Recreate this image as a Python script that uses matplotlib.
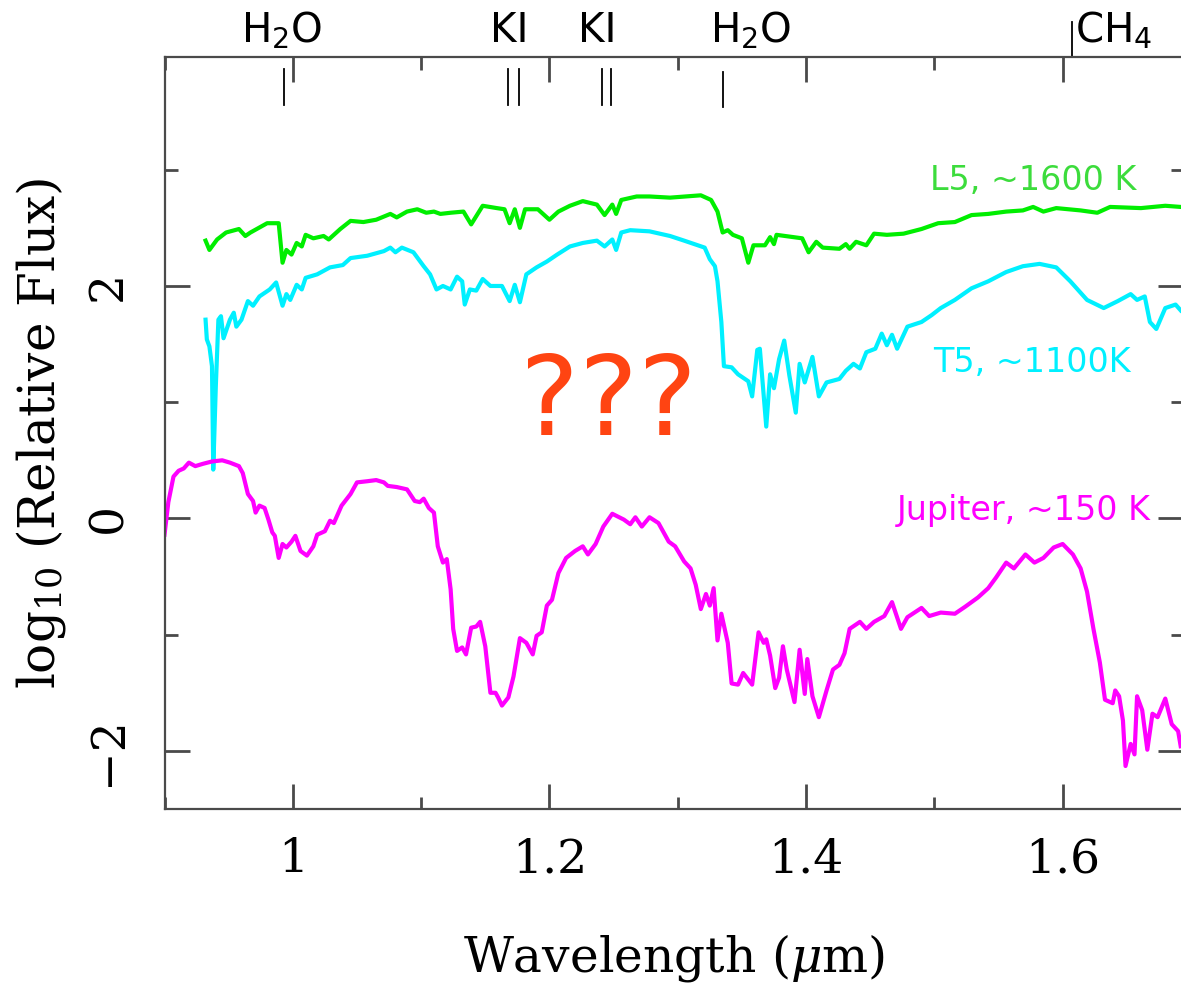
"""Near-IR spectra of an L5 dwarf, a T5 dwarf and Jupiter (log relative flux)."""

import matplotlib
matplotlib.use("Agg")
import matplotlib.pyplot as plt
from matplotlib.ticker import FixedLocator, FixedFormatter, MultipleLocator

# ---- data (wavelength in micron, log10 relative flux) ----
l5_wave = [0.932, 0.935, 0.941, 0.948, 0.958, 0.963, 0.967, 0.980, 0.989, 0.992,
           0.995, 0.999, 1.003, 1.007, 1.010, 1.016, 1.024, 1.028, 1.037, 1.045,
           1.055, 1.065, 1.076, 1.081, 1.089, 1.097, 1.104, 1.110, 1.115, 1.123,
           1.133, 1.139, 1.148, 1.159, 1.165, 1.169, 1.173, 1.177, 1.181, 1.191,
           1.200, 1.207, 1.216, 1.226, 1.237, 1.243, 1.249, 1.252, 1.256, 1.268,
           1.278, 1.294, 1.318, 1.326, 1.331, 1.335, 1.339, 1.343, 1.350, 1.355,
           1.359, 1.368, 1.372, 1.375, 1.377, 1.397, 1.402, 1.408, 1.413, 1.426,
           1.431, 1.434, 1.439, 1.447, 1.453, 1.463, 1.476, 1.490, 1.503, 1.516,
           1.529, 1.542, 1.556, 1.569, 1.577, 1.585, 1.595, 1.614, 1.627, 1.637,
           1.661, 1.680, 1.692]
l5_flux = [2.39, 2.31, 2.40, 2.46, 2.49, 2.43, 2.46, 2.54, 2.54, 2.20,
           2.31, 2.27, 2.37, 2.34, 2.44, 2.41, 2.43, 2.40, 2.49, 2.56,
           2.55, 2.57, 2.62, 2.59, 2.64, 2.66, 2.63, 2.64, 2.62, 2.63,
           2.64, 2.53, 2.69, 2.67, 2.66, 2.54, 2.66, 2.50, 2.66, 2.66,
           2.57, 2.64, 2.69, 2.73, 2.70, 2.61, 2.70, 2.62, 2.74, 2.77,
           2.77, 2.76, 2.78, 2.74, 2.64, 2.46, 2.48, 2.44, 2.41, 2.20,
           2.35, 2.35, 2.42, 2.36, 2.44, 2.41, 2.29, 2.38, 2.33, 2.32,
           2.36, 2.32, 2.38, 2.35, 2.45, 2.44, 2.45, 2.49, 2.54, 2.55,
           2.61, 2.62, 2.64, 2.65, 2.68, 2.64, 2.67, 2.65, 2.63, 2.68,
           2.67, 2.69, 2.68]

t5_wave = [0.932, 0.933, 0.935, 0.937, 0.938, 0.940, 0.942, 0.944, 0.946, 0.951,
           0.954, 0.956, 0.960, 0.965, 0.969, 0.974, 0.982, 0.987, 0.992, 0.995,
           0.998, 1.003, 1.007, 1.010, 1.019, 1.029, 1.039, 1.045, 1.058, 1.071,
           1.076, 1.080, 1.085, 1.094, 1.102, 1.107, 1.112, 1.117, 1.123, 1.128,
           1.132, 1.134, 1.138, 1.143, 1.148, 1.154, 1.163, 1.169, 1.173, 1.177,
           1.182, 1.190, 1.198, 1.206, 1.216, 1.226, 1.237, 1.243, 1.249, 1.252,
           1.256, 1.263, 1.278, 1.294, 1.305, 1.321, 1.325, 1.329, 1.331, 1.334,
           1.336, 1.342, 1.347, 1.355, 1.358, 1.362, 1.364, 1.369, 1.372, 1.375,
           1.379, 1.383, 1.387, 1.392, 1.395, 1.399, 1.405, 1.410, 1.416, 1.426,
           1.431, 1.437, 1.442, 1.447, 1.454, 1.459, 1.463, 1.467, 1.471, 1.479,
           1.490, 1.498, 1.505, 1.516, 1.529, 1.542, 1.556, 1.569, 1.582, 1.595,
           1.606, 1.619, 1.632, 1.643, 1.653, 1.658, 1.664, 1.668, 1.673, 1.680,
           1.688, 1.692]
t5_flux = [1.71, 1.54, 1.48, 1.31, 0.42, 1.14, 1.71, 1.74, 1.55, 1.71,
           1.77, 1.65, 1.71, 1.87, 1.83, 1.91, 1.97, 2.03, 1.83, 1.93,
           1.88, 2.01, 1.97, 2.07, 2.10, 2.16, 2.18, 2.24, 2.26, 2.30,
           2.33, 2.29, 2.33, 2.29, 2.17, 2.10, 1.97, 2.00, 1.97, 2.08,
           2.04, 1.84, 1.97, 1.96, 2.06, 2.00, 2.00, 1.87, 2.01, 1.86,
           2.10, 2.16, 2.21, 2.27, 2.34, 2.37, 2.39, 2.34, 2.40, 2.31,
           2.46, 2.48, 2.47, 2.43, 2.39, 2.33, 2.23, 2.17, 2.04, 1.69,
           1.31, 1.30, 1.24, 1.18, 1.05, 1.45, 1.46, 0.79, 1.24, 1.12,
           1.37, 1.53, 1.23, 0.91, 1.33, 1.17, 1.39, 1.05, 1.17, 1.20,
           1.27, 1.33, 1.29, 1.43, 1.46, 1.59, 1.49, 1.58, 1.46, 1.65,
           1.69, 1.75, 1.81, 1.88, 1.98, 2.04, 2.12, 2.17, 2.19, 2.16,
           2.04, 1.88, 1.81, 1.87, 1.93, 1.88, 1.91, 1.69, 1.63, 1.81,
           1.84, 1.79]

jup_wave = [0.900, 0.903, 0.907, 0.911, 0.915, 0.919, 0.924, 0.930, 0.937, 0.945,
            0.951, 0.958, 0.961, 0.965, 0.969, 0.971, 0.974, 0.978, 0.981, 0.984,
            0.986, 0.989, 0.992, 0.995, 0.999, 1.002, 1.006, 1.011, 1.016, 1.019,
            1.025, 1.029, 1.032, 1.038, 1.045, 1.050, 1.058, 1.065, 1.071, 1.074,
            1.081, 1.089, 1.095, 1.099, 1.102, 1.106, 1.110, 1.113, 1.117, 1.120,
            1.123, 1.125, 1.128, 1.132, 1.135, 1.139, 1.143, 1.146, 1.150, 1.154,
            1.158, 1.160, 1.163, 1.168, 1.172, 1.175, 1.177, 1.182, 1.187, 1.190,
            1.194, 1.198, 1.202, 1.207, 1.213, 1.220, 1.226, 1.230, 1.236, 1.242,
            1.249, 1.258, 1.263, 1.267, 1.272, 1.278, 1.285, 1.293, 1.298, 1.305,
            1.310, 1.314, 1.318, 1.322, 1.325, 1.328, 1.331, 1.334, 1.339, 1.342,
            1.347, 1.351, 1.358, 1.363, 1.367, 1.369, 1.372, 1.376, 1.379, 1.382,
            1.385, 1.391, 1.395, 1.399, 1.401, 1.405, 1.410, 1.416, 1.421, 1.426,
            1.430, 1.434, 1.442, 1.447, 1.453, 1.461, 1.467, 1.474, 1.479, 1.490,
            1.496, 1.505, 1.516, 1.524, 1.534, 1.542, 1.548, 1.556, 1.562, 1.571,
            1.578, 1.585, 1.593, 1.600, 1.608, 1.614, 1.619, 1.624, 1.629, 1.633,
            1.639, 1.641, 1.644, 1.647, 1.649, 1.653, 1.656, 1.658, 1.662, 1.666,
            1.670, 1.674, 1.680, 1.685, 1.690, 1.692]
jup_flux = [-0.14, 0.14, 0.36, 0.41, 0.43, 0.48, 0.45, 0.47, 0.49, 0.50,
            0.48, 0.45, 0.39, 0.21, 0.15, 0.05, 0.11, 0.09, -0.01, -0.12,
            -0.15, -0.34, -0.22, -0.25, -0.20, -0.15, -0.28, -0.32, -0.24, -0.14,
            -0.11, -0.02, -0.04, 0.11, 0.21, 0.31, 0.32, 0.33, 0.31, 0.28,
            0.27, 0.25, 0.15, 0.14, 0.17, 0.09, 0.05, -0.24, -0.38, -0.35,
            -0.61, -0.95, -1.14, -1.11, -1.17, -0.94, -0.93, -0.89, -1.10, -1.50,
            -1.50, -1.54, -1.61, -1.54, -1.36, -1.16, -1.03, -1.07, -1.17, -1.01,
            -0.98, -0.75, -0.70, -0.47, -0.34, -0.28, -0.24, -0.31, -0.22, -0.07,
            0.04, -0.01, -0.05, 0.01, -0.07, 0.01, -0.04, -0.20, -0.24, -0.37,
            -0.43, -0.57, -0.78, -0.65, -0.75, -0.60, -1.05, -0.82, -1.07, -1.42,
            -1.43, -1.33, -1.43, -0.98, -1.07, -1.04, -1.18, -1.46, -1.37, -1.10,
            -1.30, -1.58, -1.13, -1.51, -1.21, -1.53, -1.71, -1.48, -1.30, -1.26,
            -1.16, -0.95, -0.89, -0.95, -0.89, -0.84, -0.72, -0.95, -0.85, -0.77,
            -0.84, -0.81, -0.82, -0.76, -0.68, -0.60, -0.51, -0.38, -0.43, -0.31,
            -0.38, -0.34, -0.25, -0.22, -0.31, -0.43, -0.63, -0.95, -1.24, -1.56,
            -1.59, -1.48, -1.53, -1.74, -2.13, -1.94, -2.03, -1.53, -1.65, -1.99,
            -1.68, -1.71, -1.55, -1.77, -1.83, -1.96]

# absorption features marked along the top: (label, line wavelengths)
feature_labels = ["H$_\\mathregular{2}$O", "KI", "KI", "H$_\\mathregular{2}$O"]
feature_label_x = [0.991, 1.169, 1.237, 1.357]
feature_lines = [[0.993], [1.168, 1.176], [1.241, 1.248], [1.335]]
ch4_wave = 1.607

x_ticks = [1.0, 1.2, 1.4, 1.6]
x_ticklabels = ["1", "1.2", "1.4", "1.6"]
y_ticks = [-2, 0, 2]
y_ticklabels = ["\u22122", "0", "2"]

GREEN, GREEN_TXT = "#00ee00", "#3cdc3c"
CYAN = "#00f0ff"
MAGENTA = "#ff00ff"
ORANGE = "#ff4412"
AXCOL = "#4a4a4a"

plt.rcParams["font.family"] = ["DejaVu Serif"]
plt.rcParams["mathtext.fontset"] = "dejavuserif"
plt.rcParams["mathtext.sf"] = "DejaVu Sans"

W, H = 1181, 985
fig = plt.figure(figsize=(W / 100, H / 100), dpi=100)
ax = fig.add_axes([164.5 / W, 176 / H, (1183 - 164.5) / W, 752 / H])

lw = 3.0
ax.plot(l5_wave, l5_flux, color=GREEN, lw=lw, solid_joinstyle="round")
ax.plot(t5_wave, t5_flux, color=CYAN, lw=lw, solid_joinstyle="round")
ax.plot(jup_wave, jup_flux, color=MAGENTA, lw=lw, solid_joinstyle="round")

ax.set_xlim(0.9, 1.6938)
ax.set_ylim(-2.5, 3.97)

# axes / ticks
for side in ("left", "bottom", "top"):
    ax.spines[side].set_color(AXCOL)
    ax.spines[side].set_linewidth(1.6)
ax.spines["right"].set_visible(False)

ax.xaxis.set_major_locator(FixedLocator(x_ticks))
ax.xaxis.set_major_formatter(FixedFormatter(x_ticklabels))
ax.xaxis.set_minor_locator(MultipleLocator(0.1))
ax.yaxis.set_major_locator(FixedLocator(y_ticks))
ax.yaxis.set_major_formatter(FixedFormatter(y_ticklabels))
ax.yaxis.set_minor_locator(MultipleLocator(1))
ax.tick_params(which="both", direction="in", top=True, right=True, color=AXCOL, width=2)
ax.tick_params(which="major", length=18)
ax.tick_params(which="minor", length=9)
ax.tick_params(axis="x", which="major", pad=20, labelsize=34)
ax.tick_params(axis="y", which="major", pad=24, labelsize=34, labelrotation=90)
for lab in ax.get_yticklabels():
    lab.set_va("center")

ax.set_xlabel("Wavelength ($\\mu$m)", fontsize=35)
ax.xaxis.set_label_coords(0.5, -0.163)
ax.set_ylabel("log$_\\mathregular{10}$ (Relative Flux)", fontsize=36)
ax.yaxis.set_label_coords(-0.095, 0.5)

# series labels
sans = ["DejaVu Sans"]
ax.text(1.497, 2.83, "L5, ~1600 K", color=GREEN_TXT, fontsize=24, family=sans, va="baseline")
ax.text(1.499, 1.26, "T5, ~1100K", color=CYAN, fontsize=24, family=sans, va="baseline")
ax.text(1.471, -0.01, "Jupiter, ~150 K", color=MAGENTA, fontsize=24, family=sans, va="baseline")
ax.text(1.2457, 0.98, "???", color=ORANGE, fontsize=80, family=sans,
        ha="center", va="center")

# feature markers
for lab, lx, lines in zip(feature_labels, feature_label_x, feature_lines):
    ax.text(lx, 4.095, lab.replace("mathregular", "mathsf"), fontsize=29, family=sans,
            ha="center", va="baseline", clip_on=False)
    for w in lines:
        top, bot = (3.84, 3.54) if lx > 1.3 else (3.87, 3.56)
        ax.plot([w, w], [bot, top], color="black", lw=1.3, clip_on=False)
ax.text(ch4_wave + 0.003, 4.095, "CH$_\\mathsf{4}$", fontsize=29, family=sans,
        ha="left", va="baseline", clip_on=False)
ax.plot([ch4_wave, ch4_wave], [3.97, 4.27], color="black", lw=1.3, clip_on=False)

fig.savefig("out.png", dpi=100)
